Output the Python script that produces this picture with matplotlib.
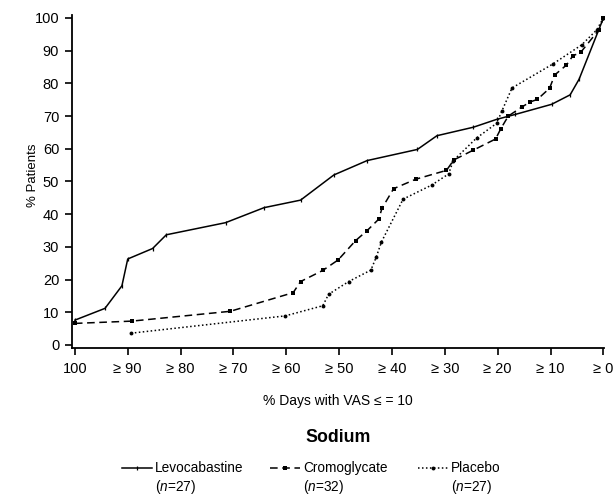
import matplotlib
matplotlib.use("Agg")
import matplotlib.pyplot as plt
from matplotlib.lines import Line2D

plt.rcParams['font.family'] = ['Liberation Sans', 'DejaVu Sans']
plt.rcParams['mathtext.fontset'] = 'custom'
plt.rcParams['mathtext.rm'] = 'Liberation Sans'
plt.rcParams['mathtext.it'] = 'Liberation Sans:italic'

# ---- data ----
tick_values = [100, 90, 80, 70, 60, 50, 40, 30, 20, 10, 0]
tick_labels = ["100", "≥ 90", "≥ 80", "≥ 70", "≥ 60", "≥ 50", "≥ 40", "≥ 30", "≥ 20", "≥ 10", "≥ 0"]
y_ticks = [0, 10, 20, 30, 40, 50, 60, 70, 80, 90, 100]

levo_x = [100, 94.3, 91.1, 90.0, 85.3, 82.7, 71.5, 64.2, 57.3, 51.0, 44.7, 35.2, 31.5, 24.6, 20.2, 16.7, 9.8, 6.3, 4.6, 0]
levo_y = [7.6, 11.2, 18.1, 26.3, 29.5, 33.7, 37.4, 42.0, 44.3, 52.0, 56.4, 59.8, 64.0, 66.6, 69.0, 70.5, 73.6, 76.5, 81.3, 100]

crom_x = [100, 89.2, 70.6, 58.7, 57.3, 53.1, 50.2, 46.9, 44.7, 42.5, 41.9, 39.7, 35.5, 29.7, 28.3, 24.6, 20.4, 19.4, 18.0, 15.5, 13.9, 12.5, 10.2, 9.2, 7.0, 5.8, 4.3, 0.9, 0]
crom_y = [6.6, 7.3, 10.3, 16.0, 19.4, 22.8, 26.0, 31.9, 35.0, 38.5, 41.8, 47.8, 50.7, 53.4, 56.6, 59.6, 63.0, 66.2, 70.0, 72.7, 74.3, 75.1, 78.5, 82.6, 85.6, 88.4, 89.5, 96.3, 100]

plac_x = [89.4, 60.2, 53.1, 52.0, 48.2, 44.0, 43.0, 42.0, 37.9, 32.5, 29.3, 28.4, 24.0, 20.2, 19.2, 17.3, 9.6, 4.1, 1.3, 0]
plac_y = [3.6, 8.9, 12.0, 15.5, 19.4, 22.9, 26.8, 31.5, 44.6, 48.9, 52.3, 56.4, 63.3, 67.8, 71.6, 78.6, 85.9, 91.8, 96.3, 100]

series_names = ["Levocabastine", "Cromoglycate", "Placebo"]
series_n = ["27", "32", "27"]

# ---- figure ----
W, H = 614, 501
fig = plt.figure(figsize=(W / 100, H / 100), dpi=100)
L, R, T, B = 71.7, 604.5, 15.5, 347.7
ax = fig.add_axes([L / W, 1 - B / H, (R - L) / W, (B - T) / H])

styles = [
    dict(color='black', lw=1.1, ls='-', marker='|', ms=3.5, mew=0.9),
    dict(color='black', lw=1.1, ls=(0, (5, 3)), marker='s', ms=2.6, mew=0),
    dict(color='black', lw=1.1, ls=(0, (1, 1.6)), marker='o', ms=2.8, mew=0),
]
ax.plot(levo_x, levo_y, **styles[0])
ax.plot(crom_x, crom_y, **styles[1])
ax.plot(plac_x, plac_y, **styles[2])

ax.set_xlim(100.6, -0.2)
ax.set_ylim(-0.83, 100.76)
ax.set_xticks(tick_values)
ax.set_xticklabels(tick_labels, fontsize=10.5)
ax.set_yticks(y_ticks)
ax.set_yticklabels([str(v) for v in y_ticks], fontsize=10.5)
ax.tick_params(axis='both', direction='out', length=5, width=1.2, pad=4)
ax.tick_params(axis='x', pad=5)
for s in ['top', 'right']:
    ax.spines[s].set_visible(False)
for s in ['left', 'bottom']:
    ax.spines[s].set_linewidth(1.3)

ax.set_xlabel("% Days with VAS ≤ = 10", fontsize=10, labelpad=13)
fig.text(33 / W, 1 - 175 / H, "% Patients", fontsize=9.5, rotation=90, ha='center', va='center')

# title below
fig.text(338 / W, 1 - 437 / H, "Sodium", fontsize=12.8, fontweight='bold', ha='center', va='center')

# legend (manual)
leg_x = [122, 270, 418]
for i in range(3):
    x0 = leg_x[i]
    st = dict(styles[i])
    ms = st.pop('ms'); mk = st.pop('marker'); mew = st.pop('mew')
    yl = 1 - 468 / H
    line = Line2D([x0 / W, (x0 + 30) / W], [yl, yl], transform=fig.transFigure, **st)
    fig.add_artist(line)
    mline = Line2D([(x0 + 15) / W], [yl], transform=fig.transFigure, color='black', ls='none',
                   marker=mk, ms=ms, mew=mew)
    fig.add_artist(mline)
    fig.text((x0 + 33) / W, yl, series_names[i], fontsize=9.8, ha='left', va='center')
    fig.text((x0 + 33) / W, 1 - 487 / H, "($\\mathit{n}$=" + series_n[i] + ")", fontsize=9.8,
             ha='left', va='center')

fig.savefig("out.png", dpi=100)
